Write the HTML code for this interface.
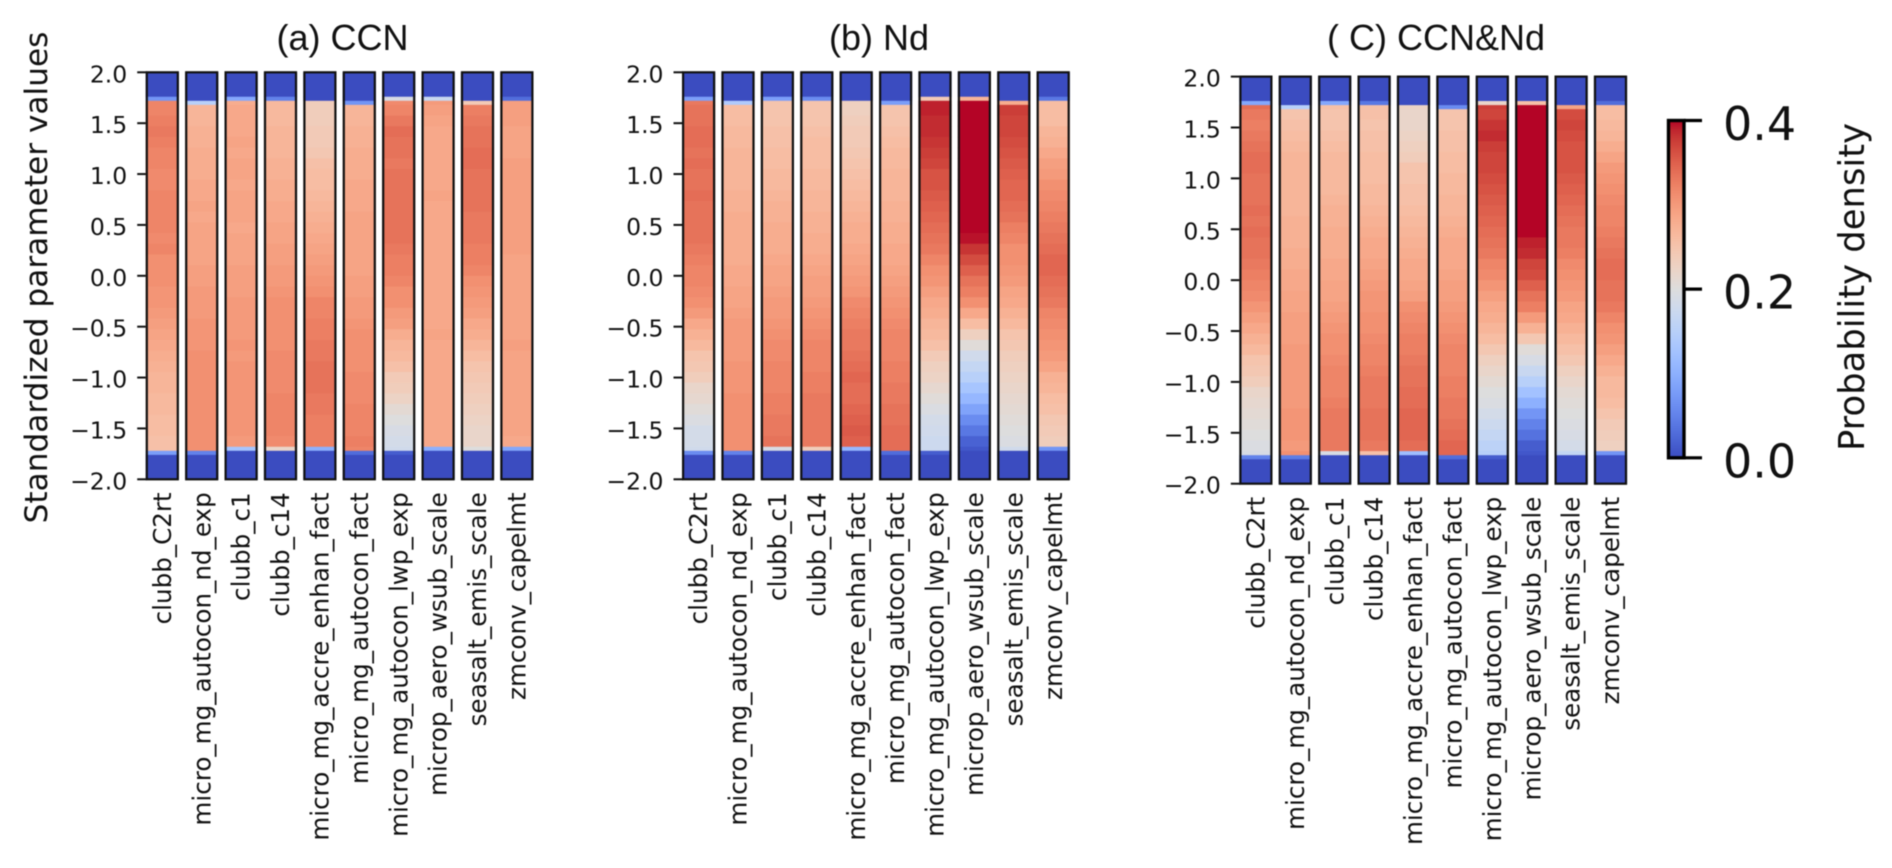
<!DOCTYPE html>
<html lang="en">
<head>
<meta charset="utf-8">
<title>Posterior probability density of standardized parameters</title>
<style>
html,body{margin:0;padding:0;background:#fff;width:1892px;height:868px;overflow:hidden}
svg{display:block;filter:blur(0.45px)}
text{fill:#111}
.tick{font-family:"DejaVu Sans",sans-serif;font-size:23.5px}
.cat{font-family:"DejaVu Sans",sans-serif;font-size:24.6px}
.title{font-family:"Liberation Sans",sans-serif;font-size:36px}
.ylab{font-family:"DejaVu Sans",sans-serif;font-size:31.2px}
.cbt{font-family:"DejaVu Sans",sans-serif;font-size:46px}
.cbl{font-family:"DejaVu Sans",sans-serif;font-size:35.4px}
</style>
</head>
<body>
<svg id="chart" xmlns="http://www.w3.org/2000/svg" width="1892" height="868" viewBox="0 0 1892 868">
  <rect x="0" y="0" width="1892" height="868" fill="#fff"/>
  <text class="ylab" text-anchor="middle" transform="translate(47,277.5) rotate(-90)">Standardized parameter values</text>
  <text class="cbl" text-anchor="middle" transform="translate(1864,287) rotate(-90)">Probability density</text>
  <defs>
    <linearGradient id="cbarGrad" x1="0" y1="1" x2="0" y2="0"></linearGradient>
  </defs>
</svg>
<script>
const categories = ["clubb_C2rt","micro_mg_autocon_nd_exp","clubb_c1","clubb_c14","micro_mg_accre_enhan_fact","micro_mg_autocon_fact","micro_mg_autocon_lwp_exp","microp_aero_wsub_scale","seasalt_emis_scale","zmconv_capelmt"];
const yTicks = [2.0,1.5,1.0,0.5,0.0,-0.5,-1.0,-1.5,-2.0];
const cbarTicks = [0.0,0.2,0.4];
const panelTitles = ["(a) CCN","(b) Nd","( C) CCN&Nd"];
const rowEdges = [2.0,1.76,1.72,1.68,1.575,1.47,1.365,1.26,1.155,1.05,0.945,0.84,0.735,0.63,0.525,0.42,0.315,0.21,0.105,0,-0.105,-0.21,-0.315,-0.42,-0.525,-0.63,-0.735,-0.84,-0.945,-1.05,-1.155,-1.26,-1.365,-1.47,-1.575,-1.68,-1.72,-1.76,-2.0];

const panelAValues = [
[0,.07,.32, .32,.325,.33,.325,.32,.32,.315,.315, .32,.32,.32,.32,.315,.32,.31,.31, .31,.305,.305,.30,.295,.29,.285,.28, .275,.27,.27,.265,.265,.26,.26,.255, .255,.08,0],
[0,0,.15, .27,.27,.275,.275,.28,.28,.28,.285, .285,.29,.285,.29,.29,.29,.29,.295, .295,.30,.30,.30,.305,.305,.305,.31, .31,.31,.31,.31,.31,.31,.31,.31, .31,.05,0],
[0,.09,.28, .285,.285,.285,.29,.285,.29,.29,.285, .29,.29,.29,.285,.29,.29,.29,.295, .295,.295,.30,.30,.30,.30,.305,.30, .305,.305,.305,.305,.305,.305,.305,.30, .13,0,0],
[0,.05,.265, .265,.265,.27,.27,.27,.275,.275,.28, .28,.285,.285,.29,.29,.295,.295,.30, .30,.305,.31,.31,.31,.31,.31,.315, .315,.315,.315,.32,.32,.32,.32,.315, .22,0,0],
[0,0,.235, .235,.235,.24,.24,.245,.255,.26,.26, .265,.27,.275,.28,.285,.29,.295,.30, .305,.31,.32,.32,.325,.325,.33,.33, .335,.335,.335,.33,.33,.325,.325,.325, .10,0,0],
[0,0,.07, .27,.27,.275,.275,.28,.28,.28,.285, .285,.285,.29,.29,.29,.29,.29,.29, .295,.295,.30,.30,.305,.31,.31,.31, .31,.315,.315,.315,.32,.32,.32,.325, .32,.03,0],
[0,.19,.315, .32,.33,.34,.335,.335,.33,.335,.335, .335,.335,.335,.335,.335,.33,.325,.325, .32,.31,.31,.30,.295,.28,.27,.265, .255,.24,.235,.225,.21,.20,.19,.185, .18,.015,0],
[0,.17,.30, .295,.29,.285,.285,.285,.285,.285,.285, .29,.285,.285,.285,.285,.285,.285,.285, .285,.285,.285,.285,.285,.29,.285,.285, .285,.285,.285,.285,.285,.285,.285,.285, .10,0,0],
[0,0,.24, .325,.33,.335,.335,.34,.34,.335,.335, .335,.335,.33,.33,.33,.325,.325,.32, .31,.305,.30,.295,.285,.28,.27,.26, .25,.245,.24,.235,.23,.225,.22,.22, .20,0,0],
[0,.03,.295, .295,.295,.29,.29,.29,.295,.295,.295, .295,.295,.295,.295,.295,.295,.29,.29, .29,.29,.29,.29,.29,.29,.295,.29, .29,.29,.29,.29,.29,.29,.29,.285, .09,0,0]
];

const panelBValues = [
[0,.08,.33, .335,.335,.34,.34,.335,.34,.335,.335, .34,.335,.335,.335,.335,.33,.325,.32, .32,.315,.31,.30,.285,.275,.265,.25, .245,.235,.22,.215,.205,.195,.185,.185, .18,.06,0],
[0,0,.14, .26,.26,.265,.265,.27,.27,.27,.27, .275,.275,.28,.28,.28,.28,.28,.285, .285,.29,.29,.295,.30,.30,.30,.30, .305,.305,.305,.31,.31,.31,.31,.31, .31,.05,0],
[0,.08,.25, .25,.25,.255,.255,.26,.26,.265,.265, .27,.275,.275,.28,.28,.28,.285,.29, .29,.295,.30,.30,.305,.31,.315,.315, .32,.32,.32,.325,.325,.33,.33,.335, .19,0,0],
[0,.06,.25, .25,.25,.255,.26,.26,.26,.265,.265, .27,.27,.275,.275,.28,.28,.285,.29, .295,.295,.30,.305,.31,.315,.32,.32, .32,.325,.325,.33,.33,.33,.33,.33, .235,0,0],
[0,0,.23, .23,.235,.24,.24,.245,.25,.255,.26, .265,.27,.275,.28,.28,.285,.29,.295, .30,.305,.315,.32,.325,.33,.33,.335, .34,.345,.34,.34,.345,.35,.355,.35, .11,0,0],
[0,0,.08, .25,.25,.255,.26,.265,.265,.27,.27, .27,.275,.275,.28,.28,.285,.285,.29, .295,.30,.305,.31,.315,.32,.32,.32, .325,.325,.33,.33,.335,.335,.34,.34, .34,.03,0],
[0,.24,.39, .39,.385,.385,.38,.375,.37,.36,.36, .355,.35,.345,.34,.335,.33,.32,.31, .305,.295,.285,.28,.27,.265,.255,.24, .23,.225,.215,.205,.195,.185,.18,.175, .175,.015,0],
[0,.27,.41, .42,.42,.42,.42,.42,.42,.42,.42, .42,.42,.42,.41,.395,.38,.365,.35, .335,.325,.31,.285,.26,.23,.205,.18, .165,.15,.13,.11,.085,.06,.04,.02, .01,0,0],
[0,0,.28, .375,.37,.37,.365,.36,.355,.35,.345, .345,.34,.335,.325,.32,.31,.31,.305, .30,.29,.285,.275,.265,.25,.245,.235, .23,.225,.22,.215,.21,.205,.20,.195, .18,0,0],
[0,.04,.26, .26,.26,.27,.275,.285,.295,.30,.31, .315,.32,.325,.33,.335,.34,.345,.345, .34,.335,.33,.32,.315,.31,.305,.30, .29,.275,.27,.26,.255,.245,.24,.235, .07,0,0]
];

const panelCValues = [
[0,.09,.34, .33,.325,.33,.335,.34,.34,.335,.335, .335,.34,.335,.34,.335,.335,.33,.325, .32,.315,.305,.295,.285,.275,.265,.25, .245,.235,.22,.215,.21,.205,.20,.195, .19,.05,0],
[0,0,.15, .25,.255,.26,.265,.27,.27,.27,.27, .27,.27,.275,.275,.275,.28,.28,.285, .285,.29,.29,.295,.295,.295,.30,.30, .30,.30,.30,.30,.305,.305,.305,.30, .31,.045,0],
[0,.09,.255, .25,.25,.255,.26,.265,.265,.265,.265, .27,.275,.275,.28,.28,.28,.285,.285, .29,.29,.295,.30,.305,.31,.31,.315, .32,.32,.32,.325,.33,.33,.33,.33, .19,0,0],
[0,.04,.255, .255,.25,.255,.255,.26,.26,.26,.265, .265,.27,.275,.28,.285,.285,.29,.295, .30,.305,.305,.31,.31,.315,.32,.32, .325,.33,.33,.33,.335,.335,.335,.33, .255,0,0],
[0,0,.225, .22,.22,.225,.23,.235,.25,.25,.255, .255,.26,.265,.27,.275,.28,.285,.285, .29,.295,.31,.315,.32,.325,.325,.33, .335,.335,.34,.34,.345,.345,.345,.34, .12,0,0],
[0,0,.06, .25,.25,.255,.255,.26,.26,.265,.265, .27,.27,.275,.28,.285,.285,.285,.29, .295,.295,.30,.305,.31,.315,.32,.32, .32,.325,.325,.33,.33,.335,.34,.345, .345,.03,0],
[0,.22,.375, .37,.38,.385,.375,.37,.37,.365,.36, .355,.35,.345,.34,.335,.33,.32,.315, .305,.295,.285,.28,.27,.26,.245,.23, .22,.21,.20,.195,.185,.175,.165,.155, .15,.015,0],
[0,.255,.41, .42,.42,.42,.42,.42,.42,.42,.42, .42,.42,.42,.405,.39,.385,.37,.365, .35,.335,.325,.30,.275,.245,.205,.19, .17,.15,.125,.10,.07,.05,.035,.015, .01,0,0],
[0,0,.29, .365,.37,.365,.36,.36,.36,.355,.35, .345,.34,.335,.33,.33,.325,.315,.31, .305,.30,.29,.285,.275,.265,.255,.245, .23,.22,.21,.205,.20,.195,.19,.185, .165,0,0],
[0,.03,.26, .26,.265,.27,.28,.29,.30,.305,.31, .315,.32,.32,.325,.33,.335,.34,.34, .335,.335,.33,.32,.31,.305,.295,.285, .275,.265,.265,.26,.25,.24,.235,.23, .07,0,0]
];

/* coolwarm colormap table (Moreland), 33 equally spaced RGB stops */
const coolwarm = [[59,76,192],[68,90,204],[77,104,215],[87,117,225],[98,130,234],[108,142,241],[119,154,247],[130,165,251],[141,176,254],[152,185,255],[163,194,255],[174,201,253],[184,208,249],[194,213,244],[204,217,238],[213,219,230],[221,221,221],[229,216,209],[236,211,197],[241,204,185],[245,196,173],[247,187,160],[247,177,148],[247,166,135],[244,154,123],[241,141,111],[236,127,99],[229,112,88],[222,96,77],[213,80,66],[203,62,56],[192,40,47],[180,4,38]];

const NS = 'http://www.w3.org/2000/svg';
const svg = document.getElementById('chart');
const vmax = 0.4;
const layout = [
  {values: panelAValues, firstBarLeft: 145.7, top: 72.3, bottom: 479.3, titleX: 342.5, titleY: 50, key: 'a'},
  {values: panelBValues, firstBarLeft: 682.0, top: 72.3, bottom: 479.3, titleX: 879, titleY: 50, key: 'b'},
  {values: panelCValues, firstBarLeft: 1239.3, top: 76.6, bottom: 483.7, titleX: 1436, titleY: 50, key: 'c'}
];
const barPitch = 39.4, barOuter = 33.2, frameW = 2.2, tickLen = 8.5;

function colorOf(v) {
  const t = Math.max(0, Math.min(1, v / vmax)) * (coolwarm.length - 1);
  const i = Math.min(coolwarm.length - 2, Math.floor(t));
  const f = t - i;
  const c = [0, 1, 2].map(k => Math.round(coolwarm[i][k] + (coolwarm[i + 1][k] - coolwarm[i][k]) * f));
  return 'rgb(' + c.join(',') + ')';
}
function make(tag, attrs, parent) {
  const el = document.createElementNS(NS, tag);
  for (const k in attrs) el.setAttribute(k, attrs[k]);
  (parent || svg).appendChild(el);
  return el;
}
function formatTick(v) {
  const s = Math.abs(v).toFixed(1);
  return (v < 0 ? '\u2212' : '') + s;
}

layout.forEach((p, pi) => {
  const yScale = v => p.bottom - (v + 2) / 4 * (p.bottom - p.top);

  const group = make('g', {});
  
  

  const title = make('text', {x: p.titleX, y: p.titleY, 'text-anchor': 'middle', class: 'title'}, group);
  
  
  title.textContent = panelTitles[pi];

  yTicks.forEach(v => {
    const y = yScale(v);
    const mark = make('line', {x1: p.firstBarLeft - tickLen, x2: p.firstBarLeft + 1, y1: y, y2: y, stroke: '#111', 'stroke-width': 2}, group);
    
    
    const lab = make('text', {x: p.firstBarLeft - 18.5, y: y + 10, 'text-anchor': 'end', class: 'tick'}, group);
    
    
    lab.textContent = formatTick(v);
  });

  categories.forEach((name, bi) => {
    const left = p.firstBarLeft + bi * barPitch;
    const bar = make('g', {}, group);
    
    
    p.values[bi].forEach((v, ri) => {
      const y1 = yScale(rowEdges[ri]);
      const y2 = yScale(rowEdges[ri + 1]);
      const cell = make('rect', {x: left, y: y1, width: barOuter, height: y2 - y1 + 0.4, fill: colorOf(v)}, bar);
      
      
    });
    const frame = make('rect', {x: left + frameW / 2, y: p.top, width: barOuter - frameW, height: p.bottom - p.top, fill: 'none', stroke: '#111', 'stroke-width': frameW}, bar);
    
    
    const cx = left + barOuter / 2;
    const lab = make('text', {'text-anchor': 'end', class: 'cat', transform: 'translate(' + (cx + 8.6) + ',' + (p.bottom + 13) + ') rotate(-90)'}, group);
    
    
    lab.textContent = name;
  });
});

/* colorbar */
const grad = document.getElementById('cbarGrad');
coolwarm.forEach((c, i) => {
  make('stop', {offset: (i / (coolwarm.length - 1)).toFixed(4), 'stop-color': 'rgb(' + c.join(',') + ')'}, grad);
});
const cbLeft = 1668.5, cbRight = 1684, cbTop = 120.5, cbBottom = 457.8;
const cbScale = v => cbBottom - v / vmax * (cbBottom - cbTop);
const cbar = make('g', {});


const cbFill = make('rect', {x: cbLeft, y: cbTop, width: cbRight - cbLeft, height: cbBottom - cbTop, fill: 'url(#cbarGrad)', stroke: '#000', 'stroke-width': 3.4}, cbar);


cbarTicks.forEach(v => {
  const y = cbScale(v);
  const mark = make('line', {x1: cbRight, x2: 1702, y1: y, y2: y, stroke: '#000', 'stroke-width': 3.2}, cbar);
  
  
  const lab = make('text', {x: 1723, y: y + 19.5, class: 'cbt'}, cbar);
  
  
  lab.textContent = v.toFixed(1);
});
</script>
</body>
</html>
